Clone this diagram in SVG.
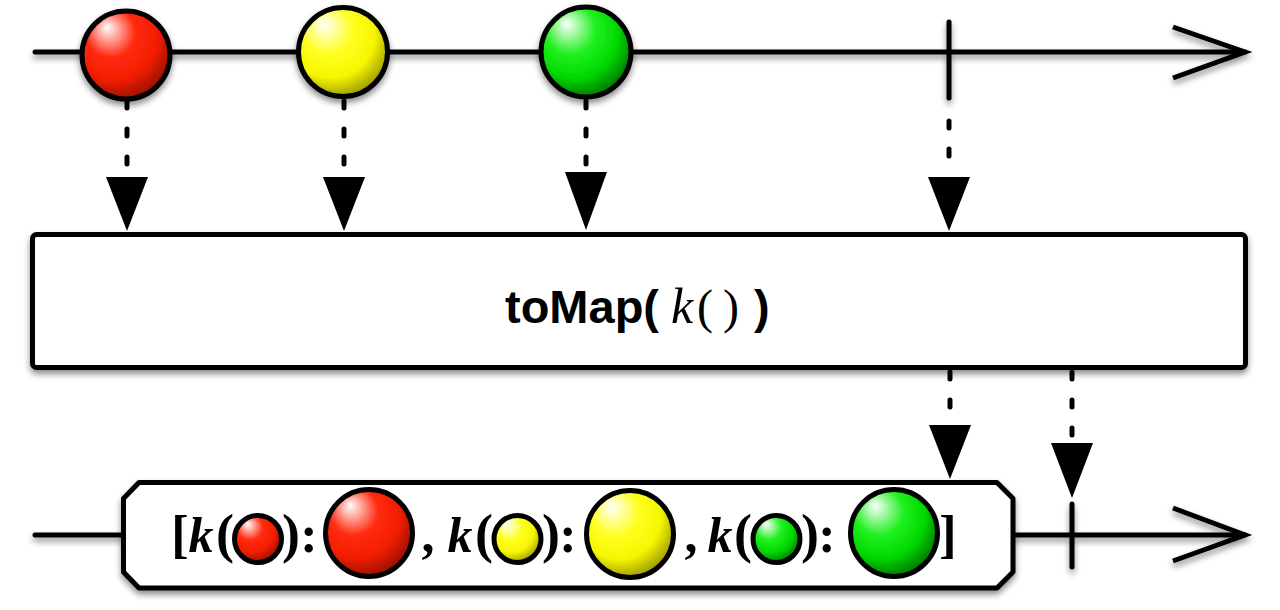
<svg xmlns="http://www.w3.org/2000/svg" width="1280" height="610" viewBox="0 0 1280 610">
<style>
.ln{stroke:#000;stroke-width:5;fill:none;stroke-linecap:round}
.ar{stroke:#000;stroke-width:5;fill:none;stroke-linejoin:miter;stroke-linecap:butt}
.dash{stroke:#000;stroke-width:5;fill:none;stroke-linecap:round;stroke-dasharray:7 21}
.tri{fill:#000}
.box{fill:#fff;stroke:#000;stroke-width:5;stroke-linejoin:round}
.ball{stroke:#000;stroke-width:5}
.op{font-family:"Liberation Sans",Arial,sans-serif;font-weight:bold;font-size:47px;fill:#000}
.it{font-family:"Liberation Serif","Times New Roman",serif;font-style:italic;font-weight:normal}
.sr{font-family:"Liberation Serif","Times New Roman",serif;font-weight:normal}
.bt{font-family:"Liberation Serif","Times New Roman",serif;font-weight:bold;font-size:52px;fill:#000;text-anchor:middle}
.bk{font-style:italic;font-size:50px}
.pr{font-size:54px}
</style>
<defs>
<filter id="sh" x="-10%" y="-30%" width="120%" height="180%">
<feDropShadow dx="0" dy="4" stdDeviation="3" flood-color="#000" flood-opacity="0.45"/>
</filter>
<radialGradient id="gR" cx="0.4" cy="0.35" r="0.7" fx="0.28" fy="0.18">
<stop offset="0" stop-color="#ffffff"/>
<stop offset="0.4" stop-color="#ff2a10"/>
<stop offset="0.7" stop-color="#f21e00"/>
<stop offset="1" stop-color="#8a0e00"/>
</radialGradient>
<radialGradient id="gY" cx="0.4" cy="0.35" r="0.7" fx="0.28" fy="0.18">
<stop offset="0" stop-color="#ffffff"/>
<stop offset="0.4" stop-color="#ffff20"/>
<stop offset="0.7" stop-color="#f6f600"/>
<stop offset="1" stop-color="#8f8f00"/>
</radialGradient>
<radialGradient id="gG" cx="0.4" cy="0.35" r="0.7" fx="0.28" fy="0.18">
<stop offset="0" stop-color="#ffffff"/>
<stop offset="0.4" stop-color="#20f020"/>
<stop offset="0.7" stop-color="#00d800"/>
<stop offset="1" stop-color="#006a00"/>
</radialGradient>
</defs>

<g id="top-timeline" filter="url(#sh)">
<line class="ln" x1="35" y1="52" x2="1245" y2="52"/>
<polyline class="ar" points="1173,27 1245,52 1173,78"/>
<line class="ln" x1="949" y1="22" x2="949" y2="98"/>
</g>

<g id="connectors">
<line class="dash" x1="127" y1="101" x2="127" y2="175"/>
<polygon class="tri" points="106,177 148,177 127,231"/>
<line class="dash" x1="344" y1="101" x2="344" y2="175"/>
<polygon class="tri" points="323,177 365,177 344,231"/>
<line class="dash" x1="586" y1="101" x2="586" y2="172"/>
<polygon class="tri" points="565,172 607,172 586,230"/>
<line class="dash" x1="949" y1="121" x2="949" y2="175"/>
<polygon class="tri" points="928,177 970,177 949,231"/>
<line class="dash" x1="950" y1="372" x2="950" y2="420"/>
<polygon class="tri" points="929,425 971,425 950,479"/>
<line class="dash" x1="1072" y1="372" x2="1072" y2="438"/>
<polygon class="tri" points="1051,443 1093,443 1072,498"/>
</g>

<g id="marble-red" filter="url(#sh)"><circle class="ball" cx="126" cy="55" r="44" fill="url(#gR)"/></g>
<g id="marble-yellow" filter="url(#sh)"><circle class="ball" cx="343" cy="52" r="44.5" fill="url(#gY)"/></g>
<g id="marble-green" filter="url(#sh)"><circle class="ball" cx="586" cy="52" r="45" fill="url(#gG)"/></g>

<g id="operator" filter="url(#sh)">
<rect class="box" x="32.5" y="234.5" width="1213" height="133" rx="4"/>
</g>
<g id="operator-label">
<text class="op" y="323"><tspan x="505">toMap(</tspan><tspan class="it" x="671" font-size="50">k</tspan><tspan class="sr" x="697" font-size="48">(</tspan><tspan class="sr" x="723" font-size="48">)</tspan><tspan x="754">)</tspan></text>
</g>

<g id="bottom-timeline" filter="url(#sh)">
<line class="ln" x1="35" y1="535" x2="1245" y2="535"/>
<polyline class="ar" points="1173,508 1245,535 1173,561"/>
<line class="ln" x1="1072" y1="504" x2="1072" y2="567"/>
</g>

<g id="result">
<path class="box" filter="url(#sh)" d="M139,482.5 H997 L1013,498.5 V572 L997,588 H139 L123.5,572 V498.5 Z"/>
<g id="result-text">
<text class="bt" x="180" y="552">[</text>
<text class="bt bk" x="201" y="552">k</text>
<text class="bt pr" x="225" y="552">(</text>
<circle class="ball" cx="258" cy="539" r="23.5" fill="url(#gR)"/>
<text class="bt pr" x="291" y="552">)</text>
<text class="bt" x="309" y="552">:</text>
<circle class="ball" cx="369" cy="533" r="43.5" fill="url(#gR)"/>
<text class="bt" x="428" y="552">,</text>
<text class="bt bk" x="460" y="552">k</text>
<text class="bt pr" x="484" y="552">(</text>
<circle class="ball" cx="517.5" cy="539" r="23.5" fill="url(#gY)"/>
<text class="bt pr" x="551" y="552">)</text>
<text class="bt" x="568" y="552">:</text>
<circle class="ball" cx="630" cy="534" r="43.5" fill="url(#gY)"/>
<text class="bt" x="691" y="552">,</text>
<text class="bt bk" x="720" y="552">k</text>
<text class="bt pr" x="743" y="552">(</text>
<circle class="ball" cx="776.5" cy="539" r="23.5" fill="url(#gG)"/>
<text class="bt pr" x="810" y="552">)</text>
<text class="bt" x="827" y="552">:</text>
<circle class="ball" cx="894" cy="533" r="43.5" fill="url(#gG)"/>
<text class="bt" x="948" y="552">]</text>
</g>
</g>
</svg>
